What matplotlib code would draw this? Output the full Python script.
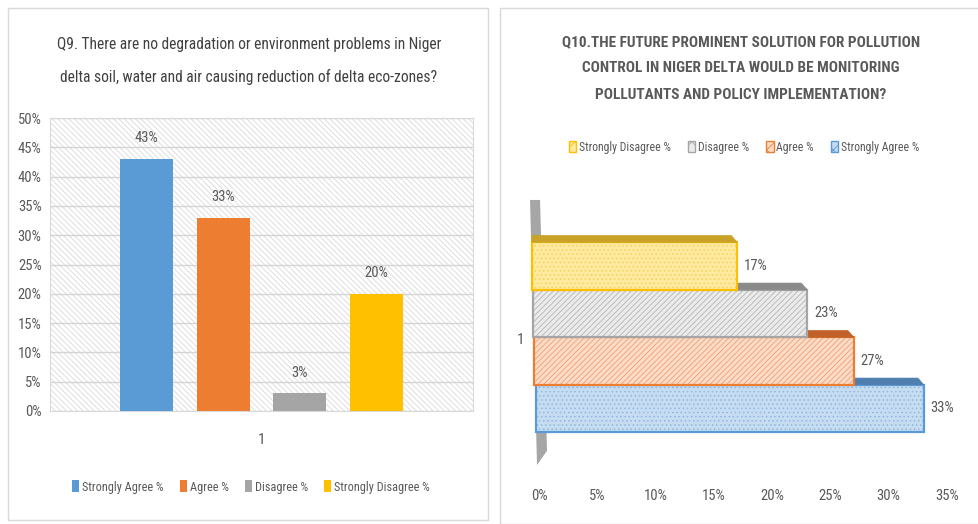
import matplotlib
matplotlib.use("Agg")
import matplotlib.pyplot as plt
from matplotlib import font_manager
from matplotlib.patches import Rectangle, Polygon, Patch

# ---- Q9 data (vertical bar chart) ----
q9_title = ("Q9. There are no degradation or environment problems in Niger",
            "delta soil, water and air causing reduction of delta eco-zones?")
q9_categories = ["Strongly Agree %", "Agree %", "Disagree %", "Strongly Disagree %"]
q9_values = [43, 33, 3, 20]
q9_colors = ["#5b9bd5", "#ed7d31", "#a5a5a5", "#ffc000"]
q9_yticks = [0, 5, 10, 15, 20, 25, 30, 35, 40, 45, 50]

# ---- Q10 data (3-D style horizontal bars, bottom to top) ----
q10_title = ("Q10.THE FUTURE PROMINENT SOLUTION FOR POLLUTION",
             "CONTROL IN NIGER DELTA WOULD BE MONITORING",
             "POLLUTANTS AND POLICY IMPLEMENTATION?")
q10_categories = ["Strongly Agree %", "Agree %", "Disagree %", "Strongly Disagree %"]
q10_values = [33, 27, 23, 17]
q10_fill = ["#c6dcf1", "#fbdcc8", "#ebebeb", "#ffeaa0"]
q10_hatchcol = ["#8fb8e0", "#f0a070", "#b5b5b5", "#f5d060"]
q10_edge = ["#5b9bd5", "#ed7d31", "#a5a5a5", "#ffc000"]
q10_top = ["#4f7fae", "#c0622a", "#8a8a8a", "#c9a227"]
q10_hatch = ["....", "//////", "//////", "...."]
q10_xticks = [0, 5, 10, 15, 20, 25, 30, 35]
category_label = "1"

# ---- fonts ----
available = {f.name for f in font_manager.fontManager.ttflist}
FONT = "DejaVu Sans"
for cand in ["Liberation Sans Narrow", "Roboto Condensed", "Open Sans Condensed"]:
    if cand in available:
        FONT = cand
        break
plt.rcParams["font.family"] = [FONT, "DejaVu Sans"]
plt.rcParams["hatch.linewidth"] = 0.6

W, H = 979, 524
fig = plt.figure(figsize=(W / 100, H / 100), dpi=100)


def fx(px):
    return px / W


def fy(py):
    return 1 - py / H


TXT = "#595959"

# panel frames
fig.add_artist(Rectangle((fx(8), fy(520)), fx(480), 512 / H, transform=fig.transFigure,
                         fill=False, ec="#d9d9d9", lw=1))
fig.add_artist(Rectangle((fx(500), fy(524)), fx(485), 516 / H, transform=fig.transFigure,
                         fill=False, ec="#d9d9d9", lw=1))

# ================= Q9 =================
axL = fig.add_axes([fx(50), fy(411), fx(423), 293 / H])
axL.set_xlim(-1.26, 4.26)
axL.set_ylim(0, 50)
axL.add_patch(Rectangle((0, 0), 1, 1, transform=axL.transAxes, facecolor="white",
                        edgecolor="#dadada", hatch="\\\\\\\\\\\\", lw=0, zorder=0))
axL.set_yticks(q9_yticks)
axL.set_yticklabels([f"{v}%" for v in q9_yticks])
axL.set_xticks([])
axL.tick_params(axis="y", length=0, pad=6, labelsize=10.5, labelcolor=TXT)
axL.yaxis.grid(True, color="#d4d4d4", lw=1, zorder=1)
axL.set_axisbelow(True)
for s in axL.spines.values():
    s.set_color("#d9d9d9")
    s.set_linewidth(0.8)

xpos = list(range(len(q9_values)))
axL.bar(xpos, q9_values, width=0.69, color=q9_colors, zorder=3)
for x, v in zip(xpos, q9_values):
    axL.annotate(f"{v}%", (x, v), xytext=(0, 15), textcoords="offset points",
                 ha="center", va="center", fontsize=10.5, color=TXT)
axL.text(0.5, -(440 - 411) / 293, category_label, transform=axL.transAxes,
         ha="center", va="center", fontsize=11, color=TXT)

fig.text(fx(249), fy(45), q9_title[0], ha="center", va="center", fontsize=11.2, color="#404040")
fig.text(fx(249), fy(77), q9_title[1], ha="center", va="center", fontsize=11.2, color="#404040")

handlesL = [Patch(facecolor=c, edgecolor="none") for c in q9_colors]
fig.legend(handlesL, q9_categories, loc="center", bbox_to_anchor=(fx(251), fy(487)),
           ncol=4, frameon=False, handlelength=0.6, handleheight=1.1,
           handletextpad=0.25, columnspacing=1.3, fontsize=8.8, labelcolor=TXT)

# ================= Q10 =================
axR = fig.add_axes([fx(539), fy(470), fx(408), 290 / H])
axR.set_xlim(0, 35)
axR.set_ylim(-1.295, 4.81)
for s in axR.spines.values():
    s.set_visible(False)
axR.set_yticks([])
axR.set_xticks(q10_xticks)
axR.set_xticklabels([f"{v}%" for v in q10_xticks])
axR.tick_params(axis="x", length=0, pad=14, labelsize=10.5, labelcolor=TXT)

# side wall (oblique), its left edge also sets where each bar starts
wall_top, wall_bot = 4.39, -1.19
wall_left_top, wall_left_bot = -0.77, -0.17
wall_w = 0.86
wall = Polygon([(wall_left_top, wall_top), (wall_left_top + wall_w, wall_top),
                (wall_left_bot + wall_w, wall_bot + 0.3), (wall_left_bot, wall_bot)],
               closed=True, facecolor="#a6a6a6", edgecolor="none", zorder=1, clip_on=False)
axR.add_patch(wall)


def wall_left(yv):
    t = (wall_top - yv) / (wall_top - wall_bot)
    return wall_left_top + t * (wall_left_bot - wall_left_top)


dx, dy = 0.5, 0.14
z = 2
for i, v in enumerate(q10_values):
    x0 = wall_left(i)
    axR.barh(i, v - x0, left=x0, height=1.0, color=q10_fill[i], hatch=q10_hatch[i],
             edgecolor=q10_hatchcol[i], lw=0, zorder=z, clip_on=False)
    axR.barh(i, v - x0, left=x0, height=1.0, fill=False, edgecolor=q10_edge[i], lw=1.6,
             zorder=z + 0.1, clip_on=False)
    top = i + 0.5
    axR.add_patch(Polygon([(x0, top), (v, top), (v - dx, top + dy), (x0, top + dy)],
                          closed=True, facecolor=q10_top[i], edgecolor=q10_top[i],
                          hatch="//////", lw=0.5, zorder=z + 0.2, clip_on=False))
    axR.annotate(f"{v}%", (v, i), xytext=(5, 0), textcoords="offset points",
                 ha="left", va="center", fontsize=10.5, color=TXT, zorder=10)
    z += 1

fig.text(fx(521), fy(340), category_label, ha="center", va="center", fontsize=11, color=TXT)

for k, line in enumerate(q10_title):
    fig.text(fx(741), fy([42, 68, 95][k]), line, ha="center", va="center",
             fontsize=11, fontweight="bold", color=TXT)

order = [3, 2, 1, 0]
handlesR = [Patch(facecolor=q10_fill[i], edgecolor=q10_edge[i], hatch="xx", lw=1) for i in order]
fig.legend(handlesR, [q10_categories[i] for i in order], loc="center",
           bbox_to_anchor=(fx(744), fy(147)), ncol=4, frameon=False,
           handlelength=0.6, handleheight=1.1, handletextpad=0.2, columnspacing=1.5,
           fontsize=8.5, labelcolor=TXT)

fig.savefig("out.png", dpi=100)
